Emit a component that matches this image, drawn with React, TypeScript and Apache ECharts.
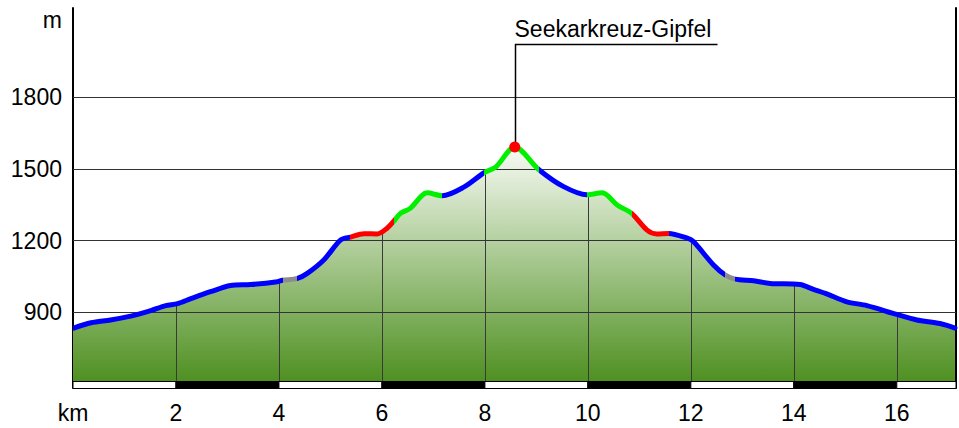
import React, { useEffect, useRef } from "react";
import * as echarts from "echarts";

// Profile data (distance in km, elevation in m)
const distanceKm = [
  0.0, 0.35, 0.73, 1.12, 1.51, 1.8, 2.03, 2.29, 2.67, 3.06, 3.45, 3.97, 4.07, 4.36, 4.55, 4.87,
  5.2, 5.39, 5.65, 5.91, 6.1, 6.23, 6.36, 6.55, 6.88, 7.17, 7.59, 7.98, 8.21, 8.58, 9.05, 9.53,
  9.98, 10.28, 10.57, 10.85, 11.15, 11.34, 11.57, 11.93, 12.05, 12.44, 12.67, 12.86, 13.22, 13.54,
  14.12, 14.38, 14.64, 15.03, 15.42, 16.0, 16.39, 16.84, 17.13,
];
const elevationM = [
  833, 856, 868, 884, 907, 928, 936, 957, 986, 1012, 1016, 1028, 1034, 1042, 1063, 1119,
  1203, 1215, 1229, 1228, 1252, 1281, 1314, 1335, 1400, 1388, 1424, 1484, 1508, 1592, 1497, 1426,
  1392, 1400, 1349, 1314, 1244, 1228, 1230, 1210, 1196, 1098, 1056, 1039, 1032, 1021,
  1016, 996, 977, 944, 928, 891, 868, 853, 834,
];

// Trail segments (start km and kind)
const segmentStartsKm = [0, 4.07, 4.36, 5.39, 6.23, 7.17, 7.98, 9.05, 9.98, 10.85, 11.57, 12.67, 12.86];
const segmentKinds = ["trail", "road", "trail", "steep", "ridge", "trail", "ridge", "trail", "ridge", "steep", "trail", "road", "trail"];

// Axis ticks
const xTickKm = [0, 2, 4, 6, 8, 10, 12, 14, 16];
const yTickM = [900, 1200, 1500, 1800];
const xMaxKm = 17.15;
const yMinM = 583;
const yMaxM = 2174;

// Summit
const summitName = "Seekarkreuz-Gipfel";
const summitKm = 8.58;
const summitM = 1592;

const kindColor: Record<string, string> = {
  trail: "#0000ff",
  road: "#8c8c8c",
  steep: "#ff0000",
  ridge: "#00f000",
};

const FONT = "'Liberation Sans', Arial, sans-serif";
const FS = 23;
const BAR_H = 7;

function interp(x: number): number {
  for (let i = 0; i < distanceKm.length - 1; i++) {
    if (x >= distanceKm[i] && x <= distanceKm[i + 1]) {
      const t = (x - distanceKm[i]) / (distanceKm[i + 1] - distanceKm[i]);
      return elevationM[i] + t * (elevationM[i + 1] - elevationM[i]);
    }
  }
  return elevationM[elevationM.length - 1];
}

export default function App() {
  const ref = useRef<HTMLDivElement>(null);

  useEffect(() => {
    if (!ref.current) return;
    const chart = echarts.init(ref.current, undefined, { renderer: "svg" });
    const profile = distanceKm.map((d, i) => [d, elevationM[i]]);
    const gridTicks = xTickKm.filter((k) => k > 0).map((k) => [k, interp(k)]);
    const barStops = [...xTickKm, xMaxKm];
    const bars = barStops.slice(0, -1).map((s, i) => [s, barStops[i + 1], i % 2]);

    const pieces = segmentStartsKm.map((s, i) => ({
      gte: s,
      lt: i + 1 < segmentStartsKm.length ? segmentStartsKm[i + 1] : 1000,
      color: kindColor[segmentKinds[i]],
    }));

    chart.setOption({
      animation: false,
      grid: { left: 73, right: 3, top: 8, bottom: 40 },
      xAxis: {
        type: "value",
        min: 0,
        max: xMaxKm,
        axisLine: { show: false },
        axisTick: { show: false },
        splitLine: { show: false },
        axisLabel: {
          customValues: xTickKm,
          formatter: (v: number) => (v === 0 ? "km" : String(v)),
          fontSize: FS,
          fontFamily: FONT,
          color: "#000",
          margin: 13,
        },
      },
      yAxis: [
        {
          type: "value",
          min: yMinM,
          max: yMaxM,
          name: "m",
          nameLocation: "end",
          nameGap: -12,
          nameTextStyle: {
            fontSize: FS,
            fontFamily: FONT,
            color: "#000",
            align: "right",
            verticalAlign: "middle",
            padding: [0, 11, 0, 0],
          },
          axisLine: { show: true, lineStyle: { color: "#000", width: 2 } },
          axisTick: { show: false },
          splitLine: { show: false },
          axisLabel: {
            customValues: yTickM,
            formatter: (v: number) => String(v),
            fontSize: FS,
            fontFamily: FONT,
            color: "#000",
            margin: 11,
          },
        },
        {
          type: "value",
          position: "right",
          min: yMinM,
          max: yMaxM,
          axisLine: { show: true, lineStyle: { color: "#000", width: 2 } },
          axisTick: { show: false },
          splitLine: { show: false },
          axisLabel: { show: false },
        },
      ],
      visualMap: {
        show: false,
        type: "piecewise",
        dimension: 0,
        seriesIndex: 3,
        pieces,
      },
      series: [
        {
          type: "line",
          z: 2,
          data: profile,
          smooth: 0.3,
          symbol: "none",
          lineStyle: { width: 0 },
          areaStyle: {
            origin: "start",
            opacity: 1,
            color: new echarts.graphic.LinearGradient(0, 0, 0, 1, [
              { offset: 0, color: "#f8fbf5" },
              { offset: 1, color: "#4a8d1b" },
            ]),
          },
          markLine: {
            silent: true,
            symbol: ["none", "none"],
            label: { show: false },
            lineStyle: { color: "#333", width: 1, type: "solid" },
            data: yTickM.map((v) => ({ yAxis: v })),
          },
        },
        {
          type: "custom",
          z: 3,
          data: gridTicks,
          renderItem: (_p: any, api: any) => {
            const top = api.coord([api.value(0), api.value(1)]);
            const bot = api.coord([api.value(0), yMinM]);
            const x = Math.round(top[0]) + 0.5;
            return {
              type: "line",
              shape: { x1: x, y1: top[1], x2: x, y2: bot[1] - BAR_H },
              style: { stroke: "#3a3a3a", lineWidth: 1 },
            };
          },
        },
        {
          type: "custom",
          z: 4,
          data: bars,
          clip: false,
          renderItem: (_p: any, api: any) => {
            const a = api.coord([api.value(0), yMinM]);
            const b = api.coord([api.value(1), yMinM]);
            return {
              type: "rect",
              shape: { x: a[0], y: a[1] - BAR_H + 0.5, width: b[0] - a[0], height: BAR_H },
              style: { fill: api.value(2) ? "#000" : "#fff", stroke: "#000", lineWidth: 1 },
            };
          },
        },
        {
          type: "line",
          z: 5,
          data: profile,
          smooth: 0.3,
          symbol: "none",
          lineStyle: { width: 5, cap: "round", join: "round" },
        },
        {
          type: "custom",
          z: 6,
          clip: false,
          data: [[summitKm, summitM]],
          renderItem: (p: any, api: any) => {
            const pt = api.coord([api.value(0), api.value(1)]);
            const cs = p.coordSys;
            const lineY = cs.y + 36.5;
            const x = Math.round(pt[0]) + 0.5;
            return {
              type: "group",
              children: [
                {
                  type: "polyline",
                  shape: { points: [[x, pt[1]], [x, lineY], [x + 202, lineY]] },
                  style: { stroke: "#000", lineWidth: 1.5, fill: null },
                },
                {
                  type: "circle",
                  shape: { cx: pt[0], cy: pt[1], r: 5.5 },
                  style: { fill: "#ff0000" },
                },
                {
                  type: "text",
                  x: x - 1,
                  y: lineY - 16,
                  style: {
                    text: summitName,
                    fontSize: FS,
                    fontFamily: FONT,
                    fill: "#000",
                    align: "left",
                    verticalAlign: "middle",
                  },
                },
              ],
            };
          },
        },
      ],
    });
    return () => chart.dispose();
  }, []);

  return (
    <div
      ref={ref}
      style={{ position: "fixed", left: 0, top: 0, width: 959, height: 428, background: "#fff" }}
    />
  );
}
